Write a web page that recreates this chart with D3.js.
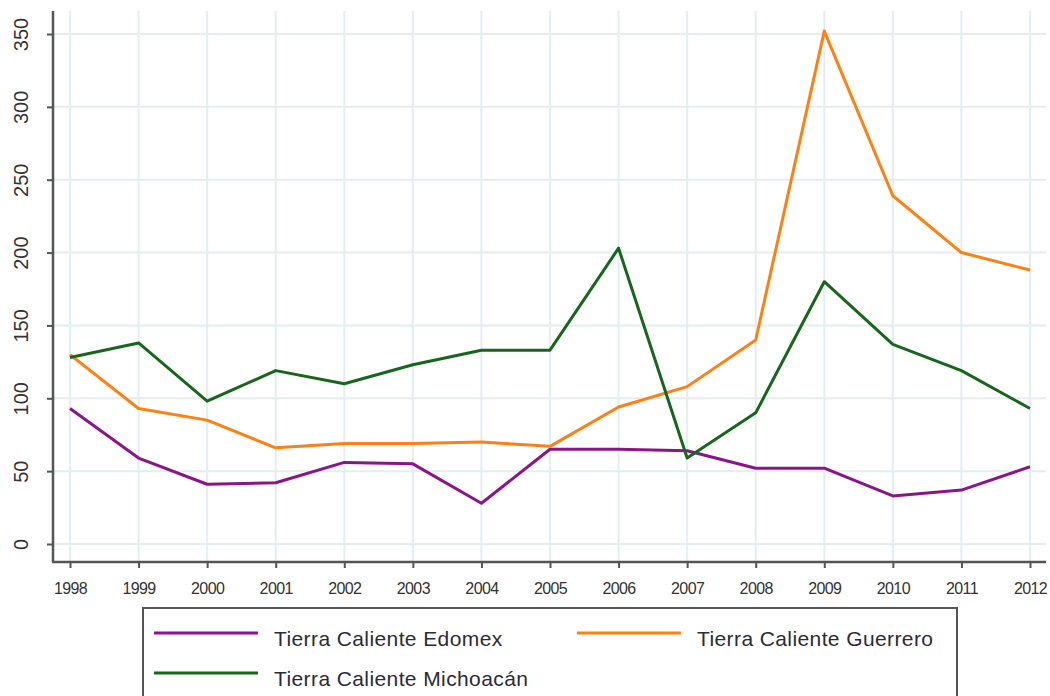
<!DOCTYPE html>
<html><head><meta charset="utf-8">
<script src="https://cdn.jsdelivr.net/npm/d3@7"></script>
<style>body{margin:0;background:#fff;} svg{display:block;}</style>
</head><body>
<script>
const years = [1998,1999,2000,2001,2002,2003,2004,2005,2006,2007,2008,2009,2010,2011,2012];
const edomex = [93,59,41,42,56,55,28,65,65,64,52,52,33,37,53];
const guerrero = [130,93,85,66,69,69,70,67,94,108,140,352,239,200,188];
const michoacan = [128,138,98,119,110,123,133,133,203,59,90,180,137,119,93];
const yTicks = [0,50,100,150,200,250,300,350];
const seriesNames = ["Tierra Caliente Edomex","Tierra Caliente Guerrero","Tierra Caliente Michoacán"];
const seriesColors = ["#8a158a","#ff8012","#17661c"];

(function(){
const W=1050,H=696;
const svg=d3.select("body").append("svg").attr("width",W).attr("height",H);
const x=d3.scaleLinear().domain([1998,2012]).range([70,1030]);
const y=d3.scaleLinear().domain([0,350]).range([544,34]);
const axisX0=53, axisY0=562, plotTop=11, plotRight=1046;

// grid
const g=svg.append("g");
g.selectAll("line.v").data(years).enter().append("line")
 .attr("x1",d=>x(d)).attr("x2",d=>x(d)).attr("y1",plotTop).attr("y2",axisY0)
 .attr("stroke","#e4eef0").attr("stroke-width",2);
g.selectAll("line.h").data(yTicks).enter().append("line")
 .attr("x1",axisX0).attr("x2",plotRight).attr("y1",d=>y(d)).attr("y2",d=>y(d))
 .attr("stroke","#e4eef0").attr("stroke-width",2);

// y axis
const ya=d3.axisLeft(y).tickValues(yTicks).tickSize(6);
const yg=svg.append("g").attr("transform",`translate(${axisX0},0)`).call(ya);
yg.select(".domain").remove();
yg.append("line").attr("x1",0).attr("x2",0).attr("y1",plotTop).attr("y2",axisY0).attr("stroke","#555").attr("stroke-width",2.5);
yg.selectAll(".tick line").attr("stroke","#555").attr("stroke-width",2);
yg.selectAll(".tick text").attr("transform","rotate(-90)").attr("x",0).attr("y",-32).attr("dy","0.35em")
 .attr("text-anchor","middle")
 .attr("font-family","Liberation Sans, Arial, sans-serif").attr("font-size",20).attr("fill","#333");

// x axis
const xa=d3.axisBottom(x).tickValues(years).tickFormat(d3.format("d")).tickSize(6).tickPadding(15);
const xg=svg.append("g").attr("transform",`translate(0,${axisY0})`).call(xa);
xg.select(".domain").remove();
xg.append("line").attr("x1",axisX0-1).attr("x2",plotRight).attr("y1",0).attr("y2",0).attr("stroke","#555").attr("stroke-width",2.5);
xg.selectAll(".tick line").attr("stroke","#555").attr("stroke-width",2);
xg.selectAll(".tick text").attr("font-family","Liberation Sans, Arial, sans-serif")
 .attr("font-size",16).attr("letter-spacing","-0.6").attr("fill","#333");

// lines
const line=d3.line().x((d,i)=>x(years[i])).y(d=>y(d));
[edomex,guerrero,michoacan].forEach((s,i)=>{
  svg.append("path").datum(s).attr("d",line).attr("fill","none")
   .attr("stroke",seriesColors[i]).attr("stroke-width",3).attr("stroke-linejoin","round");
});

// legend
const lg=svg.append("g");
lg.append("rect").attr("x",143).attr("y",608).attr("width",814).attr("height",100)
 .attr("fill","#fff").attr("stroke","#555").attr("stroke-width",2);
const legendPos=[[154,633],[577,633],[154,673]];
seriesNames.forEach((n,i)=>{
  const [lx,ly]=legendPos[i];
  lg.append("line").attr("x1",lx).attr("x2",lx+104).attr("y1",ly).attr("y2",ly)
   .attr("stroke",seriesColors[i]).attr("stroke-width",3);
  lg.append("text").attr("x",lx+120).attr("y",ly+13).text(n)
   .attr("font-family","Liberation Sans, Arial, sans-serif").attr("font-size",21)
   .attr("letter-spacing","0.4").attr("fill","#2b2b38");
});
})();
</script>
</body></html>
